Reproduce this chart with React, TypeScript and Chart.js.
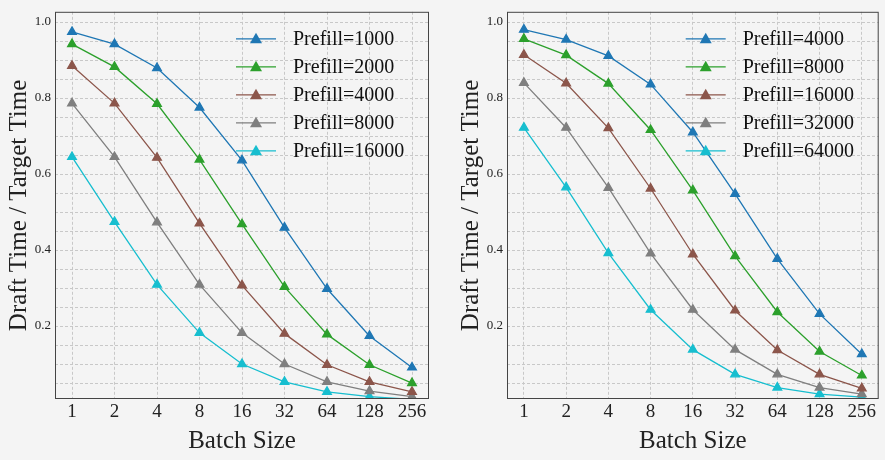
import { useEffect, useRef } from "react";
import { Chart, registerables, type ChartConfiguration } from "chart.js";

Chart.register(...registerables);

const batchSizes = ["1", "2", "4", "8", "16", "32", "64", "128", "256"];
const colors = ["#1f77b4", "#2ca02c", "#8c564b", "#7f7f7f", "#17becf"];

const leftLabels = ["Prefill=1000", "Prefill=2000", "Prefill=4000", "Prefill=8000", "Prefill=16000"];
const left1000 = [0.974, 0.942, 0.879, 0.775, 0.636, 0.459, 0.298, 0.174, 0.091];
const left2000 = [0.942, 0.882, 0.785, 0.638, 0.468, 0.303, 0.178, 0.098, 0.05];
const left4000 = [0.885, 0.786, 0.643, 0.47, 0.307, 0.18, 0.098, 0.053, 0.027];
const left8000 = [0.786, 0.645, 0.473, 0.309, 0.182, 0.1, 0.053, 0.029, 0.014];
const left16000 = [0.645, 0.474, 0.309, 0.182, 0.1, 0.053, 0.027, 0.014, 0.007];

const rightLabels = ["Prefill=4000", "Prefill=8000", "Prefill=16000", "Prefill=32000", "Prefill=64000"];
const right4000 = [0.98, 0.954, 0.911, 0.836, 0.71, 0.548, 0.377, 0.232, 0.126];
const right8000 = [0.956, 0.913, 0.838, 0.716, 0.557, 0.384, 0.237, 0.133, 0.07];
const right16000 = [0.914, 0.839, 0.721, 0.562, 0.389, 0.241, 0.137, 0.073, 0.036];
const right32000 = [0.84, 0.722, 0.564, 0.391, 0.243, 0.138, 0.073, 0.038, 0.021];
const right64000 = [0.722, 0.565, 0.392, 0.243, 0.138, 0.073, 0.038, 0.021, 0.013];

const yTicks = [0.05, 0.1, 0.15, 0.2, 0.25, 0.3, 0.35, 0.4, 0.45, 0.5, 0.55, 0.6, 0.65, 0.7, 0.75, 0.8, 0.85, 0.9, 0.95, 1.0];

const FONT = "'Liberation Serif', 'DejaVu Serif', serif";
const BG = "#f4f4f4";

const frameAndLegend = {
  id: "frameAndLegend",
  beforeDraw(chart: Chart) {
    const ctx = chart.ctx;
    ctx.save();
    ctx.fillStyle = BG;
    ctx.fillRect(0, 0, chart.width, chart.height);
    ctx.restore();
  },
  afterDraw(chart: Chart) {
    const ctx = chart.ctx;
    const a = chart.chartArea;
    ctx.save();
    ctx.strokeStyle = "#444";
    ctx.lineWidth = 1;
    ctx.strokeRect(a.left + 0.5, a.top + 0.5, a.right - a.left - 1, a.bottom - a.top - 1);
    // legend
    const lx = a.right - 193;
    chart.data.datasets.forEach((ds, i) => {
      const y = a.top + 27 + i * 28;
      const c = ds.borderColor as string;
      ctx.strokeStyle = c;
      ctx.lineWidth = 1.3;
      ctx.beginPath();
      ctx.moveTo(lx, y);
      ctx.lineTo(lx + 40, y);
      ctx.stroke();
      ctx.fillStyle = c;
      ctx.beginPath();
      ctx.moveTo(lx + 20, y - 6);
      ctx.lineTo(lx + 26, y + 4.5);
      ctx.lineTo(lx + 14, y + 4.5);
      ctx.closePath();
      ctx.fill();
      ctx.fillStyle = "#111";
      ctx.font = `20px ${FONT}`;
      ctx.textBaseline = "middle";
      ctx.fillText(ds.label as string, lx + 57, y + 1);
    });
    ctx.restore();
  },
};

function Panel({ labels, series, rightPad }: { labels: string[]; series: number[][]; rightPad: number }) {
  const canvasRef = useRef<HTMLCanvasElement>(null);

  useEffect(() => {
    if (!canvasRef.current) return;
    const config: ChartConfiguration<"line"> = {
      type: "line",
      data: {
        datasets: series.map((vals, i) => ({
          label: labels[i],
          data: vals.map((v, j) => ({ x: j, y: v })),
          borderColor: colors[i],
          backgroundColor: colors[i],
          borderWidth: 1.3,
          pointStyle: "triangle",
          pointRadius: 5,
          tension: 0,
        })),
      },
      options: {
        animation: false,
        responsive: false,
        layout: { padding: { top: 6, right: rightPad, left: 0, bottom: 0 } },
        plugins: { legend: { display: false }, tooltip: { enabled: false } },
        scales: {
          x: {
            type: "linear",
            min: -0.4,
            max: 8.4,
            afterBuildTicks: (s) => {
              s.ticks = batchSizes.map((_, i) => ({ value: i }));
            },
            afterFit: (s) => {
              s.height = 61;
            },
            ticks: {
              callback: (v) => batchSizes[Number(v)] ?? "",
              color: "#222",
              font: { family: FONT, size: 19 },
              maxRotation: 0,
              padding: 2,
            },
            grid: { color: "#c8c8c8", drawTicks: false, tickBorderDash: [3, 2] },
            border: { display: false, dash: [3, 2] },
            title: {
              display: true,
              text: "Batch Size",
              color: "#222",
              font: { family: FONT, size: 25 },
              padding: { top: 0 },
            },
          },
          y: {
            type: "linear",
            min: 0.008,
            max: 1.027,
            afterBuildTicks: (s) => {
              s.ticks = yTicks.map((v) => ({ value: v }));
            },
            afterFit: (s) => {
              s.width = 55;
            },
            ticks: {
              callback: (v) => {
                const n = Number(v);
                return Math.abs(n * 5 - Math.round(n * 5)) < 1e-6 ? n.toFixed(1) : "";
              },
              color: "#222",
              font: { family: FONT, size: 13 },
              padding: 4,
            },
            grid: { color: "#c8c8c8", drawTicks: false },
            border: { display: false, dash: [3, 2] },
            title: {
              display: true,
              text: "Draft Time / Target Time",
              color: "#222",
              font: { family: FONT, size: 25 },
              padding: { bottom: 2 },
            },
          },
        },
      },
      plugins: [frameAndLegend],
    };
    const chart = new Chart(canvasRef.current, config);
    return () => chart.destroy();
  }, [labels, series, rightPad]);

  return <canvas ref={canvasRef} width={rightPad === 11 ? 440 : 433} height={460} />;
}

export default function App() {
  return (
    <div style={{ position: "fixed", left: 0, top: 0, width: 885, height: 460, background: BG }}>
      <div style={{ position: "absolute", left: 0, top: 0 }}>
        <Panel labels={leftLabels} series={[left1000, left2000, left4000, left8000, left16000]} rightPad={11} />
      </div>
      <div style={{ position: "absolute", left: 452, top: 0 }}>
        <Panel labels={rightLabels} series={[right4000, right8000, right16000, right32000, right64000]} rightPad={5} />
      </div>
    </div>
  );
}
